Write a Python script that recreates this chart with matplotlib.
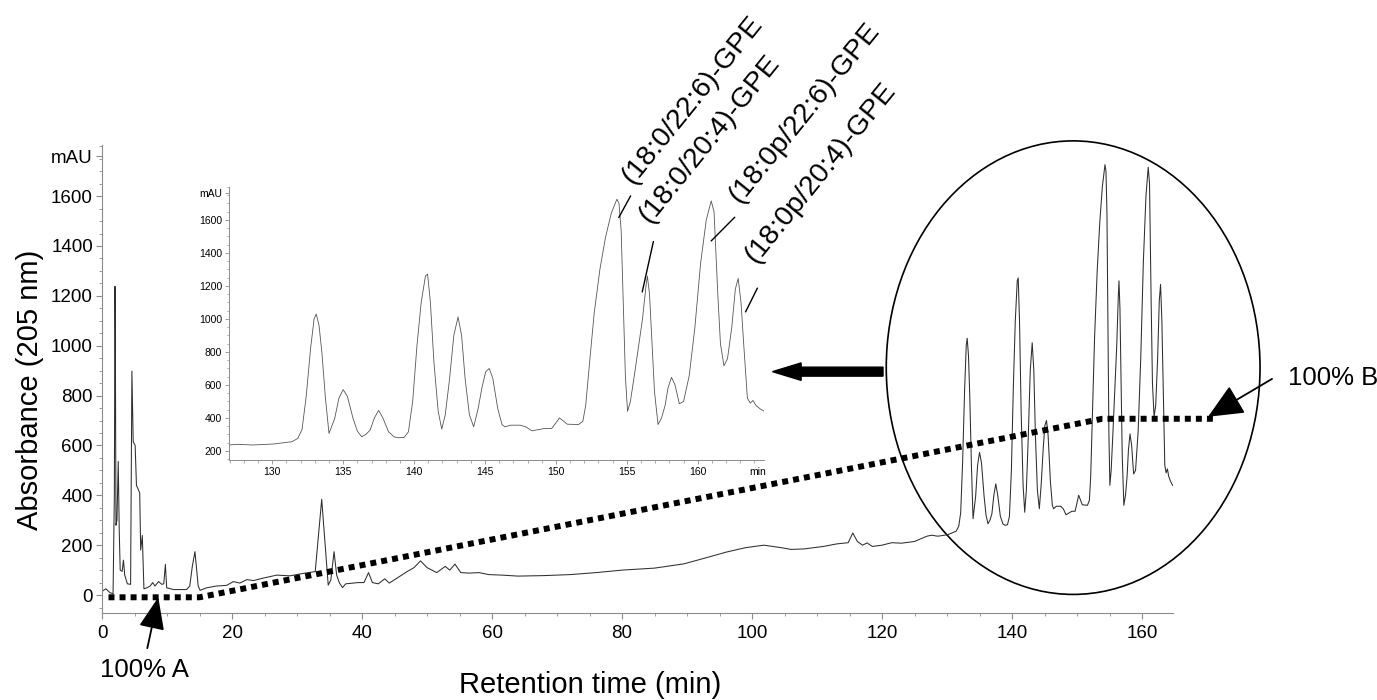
import matplotlib
matplotlib.use('Agg')
import matplotlib.pyplot as plt
from matplotlib.patches import Ellipse, FancyArrow
from matplotlib.ticker import MultipleLocator

plt.rcParams['font.family'] = ['Liberation Sans', 'DejaVu Sans']

# HPLC trace (retention time in min, absorbance in mAU)
trace_time = [0.0, 0.6, 1.2, 1.7, 1.9, 2.0, 2.05, 2.15, 2.3, 2.5, 2.65, 2.8, 3.1, 3.3, 3.5, 3.9,
              4.4, 4.6, 4.8, 5.1, 5.3, 5.8, 5.95, 6.2, 6.45, 6.9, 7.4, 7.8, 8.15, 8.7, 9.2, 9.5,
              9.75, 9.95, 11.0, 13.0, 13.5, 13.9, 14.3, 14.8, 15.1, 16.1, 17.6, 19.2, 20.2, 21.2,
              22.3, 23.3, 24.8, 26.9, 28.9, 31.0, 32.8, 33.3, 33.8, 34.3, 34.8, 35.2, 35.7, 36.1,
              36.5, 37.0, 37.5, 39.4, 40.3, 41.0, 41.6, 42.5, 43.5, 44.2, 45.5, 47.0, 48.0, 49.0,
              50.0, 51.5, 52.8, 53.5, 54.3, 55.2, 56.5, 58.0, 59.5, 61.5, 64.0, 68.0, 72.0, 76.0,
              80.0, 85.0, 89.5, 93.0, 96.0, 99.0, 101.8, 104.5, 106.0, 108.0, 111.0, 113.0, 114.8,
              115.5, 116.2, 117.0, 117.7, 118.5, 120.0, 121.5, 123.0, 125.0, 126.9, 127.6, 128.6,
              130.1, 131.4, 131.8, 132.1, 132.4, 132.7, 132.95, 133.1, 133.3, 133.5, 133.75, 134.0,
              134.4, 134.7, 135.0, 135.3, 135.7, 136.0, 136.3, 136.6, 136.9, 137.2, 137.5, 137.8,
              138.2, 138.6, 138.9, 139.3, 139.6, 139.9, 140.2, 140.5, 140.8, 140.95, 141.15, 141.4,
              141.7, 141.95, 142.2, 142.5, 142.8, 143.1, 143.35, 143.6, 143.9, 144.2, 144.5, 144.8,
              145.05, 145.3, 145.55, 145.9, 146.2, 146.4, 146.8, 147.5, 147.9, 148.3, 148.8, 149.2,
              149.7, 150.0, 150.25, 150.55, 150.8, 151.6, 151.9, 152.1, 152.4, 152.7, 153.1, 153.5,
              153.9, 154.3, 154.45, 154.6, 154.75, 154.9, 155.05, 155.25, 155.5, 155.8, 156.1,
              156.35, 156.45, 156.6, 156.75, 156.95, 157.2, 157.45, 157.7, 157.9, 158.15, 158.4,
              158.7, 159.0, 159.4, 159.8, 160.2, 160.6, 160.95, 161.15, 161.4, 161.6, 161.85, 162.1,
              162.4, 162.65, 162.85, 163.05, 163.25, 163.5, 163.7, 163.9, 164.1, 164.4, 164.7]
trace_abs = [15, 25, 10, 5, 400, 1238, 1050, 280, 300, 536, 260, 100, 95, 140, 80, 45,
             43, 898, 615, 600, 440, 410, 180, 239, 25, 29, 36, 50, 36, 54, 43, 45,
             123, 29, 22, 22, 36, 116, 174, 36, 19, 29, 36, 39, 54, 48,
             62, 58, 68, 80, 77, 87, 94, 239, 384, 210, 40, 60, 174, 80,
             50, 30, 45, 50, 50, 90, 50, 45, 65, 48, 70, 95, 110, 137,
             110, 90, 115, 100, 124, 90, 88, 90, 82, 80, 76, 78, 82, 90,
             100, 108, 125, 150, 172, 190, 200, 190, 183, 185, 195, 205, 210,
             249, 215, 200, 209, 195, 200, 210, 208, 215, 236, 240, 236,
             242, 256, 276, 330, 536, 820, 1000, 1030, 960, 796, 520, 306,
             396, 520, 572, 530, 396, 320, 286, 300, 326, 400, 446, 400,
             316, 285, 280, 282, 316, 500, 836, 1100, 1260, 1272, 1100, 736,
             440, 332, 420, 636, 900, 1012, 900, 636, 420, 346, 450, 590,
             680, 700, 640, 456, 360, 346, 356, 356, 345, 322, 330, 336,
             336, 370, 400, 380, 362, 360, 380, 476, 760, 1036, 1300, 1496,
             1640, 1726, 1700, 1536, 1100, 650, 440, 500, 640, 820, 996,
             1200, 1260, 1150, 900, 560, 360, 400, 476, 580, 646, 600,
             486, 500, 656, 950, 1336, 1600, 1716, 1650, 1176, 850, 716, 760,
             950, 1180, 1246, 1100, 836, 520, 490, 506, 476, 455, 440]

# solvent gradient (drawn on the absorbance scale)
grad_time = [1.0, 15.0, 153.9, 171.0]
grad_abs = [-9, -9, 707, 707]

main_xticks = [0, 20, 40, 60, 80, 100, 120, 140, 160]
main_yticks = [0, 200, 400, 600, 800, 1000, 1200, 1400, 1600]
inset_xticks = [130, 135, 140, 145, 150, 155, 160]
inset_yticks = [200, 400, 600, 800, 1000, 1200, 1400, 1600]

peak_names = ['(18:0/22:6)-GPE', '(18:0/20:4)-GPE', '(18:0p/22:6)-GPE', '(18:0p/20:4)-GPE']

W, H = 1377, 700
fig = plt.figure(figsize=(13.77, 7), dpi=100)

spine_col = '#8c8c8c'

# main chromatogram
ax = fig.add_axes([102 / W, 1 - 613 / H, 1070.6 / W, 468 / H])
ax.plot(trace_time, trace_abs, color='#2e2e2e', lw=0.75)
ax.plot(grad_time, grad_abs, color='black', lw=4.3, linestyle=(0, (1, 0.85)),
        dash_capstyle='butt', clip_on=False)
ax.set_xlim(0, 164.7)
ax.set_ylim(-72, 1805)
ax.set_xticks(main_xticks)
ax.set_yticks(main_yticks + [1760])
ax.set_yticklabels([str(v) for v in main_yticks] + ['mAU'])
ax.xaxis.set_minor_locator(MultipleLocator(5))
ax.yaxis.set_minor_locator(MultipleLocator(50))
for s in ['top', 'right']:
    ax.spines[s].set_visible(False)
for s in ['left', 'bottom']:
    ax.spines[s].set_color(spine_col)
    ax.spines[s].set_linewidth(0.8)
ax.tick_params(axis='both', which='major', labelsize=13.5, color=spine_col, length=4, width=0.8)
ax.tick_params(axis='both', which='minor', color=spine_col, length=2.5, width=0.6)
ax.tick_params(axis='x', pad=5)
ax.tick_params(axis='y', pad=2.5)

# ellipse around the late-eluting region
ax.add_patch(Ellipse((149.4, 912), 57.5, 1819, fill=False, edgecolor='black', lw=1.2, clip_on=False))

# thick arrow pointing to the inset
ax.add_patch(FancyArrow(120.15, 896, -17.0, 0, width=36, head_width=70, head_length=4.4,
                        length_includes_head=True, color='black', clip_on=False))

# 100% A / 100% B annotations
ax.annotate('', xy=(8.66, -9), xytext=(6.97, -213),
            arrowprops=dict(arrowstyle='-|>,head_length=1.0,head_width=0.4', mutation_scale=20,
                            color='black', lw=1.3, shrinkA=0, shrinkB=0),
            annotation_clip=False)
ax.text(6.6, -300, '100% A', fontsize=18.5, ha='center', va='center')
ax.annotate('', xy=(170.15, 715), xytext=(180.0, 867),
            arrowprops=dict(arrowstyle='-|>,head_length=1.0,head_width=0.45', mutation_scale=22,
                            color='black', lw=1.3, shrinkA=0, shrinkB=0),
            annotation_clip=False)
ax.text(182.5, 871, '100% B', fontsize=18.5, ha='left', va='center')

# inset: zoom of 127-165 min
ax_in = fig.add_axes([229 / W, 1 - 460 / H, 535.4 / W, 273 / H])
ax_in.set_facecolor('none')
ax_in.plot(trace_time, trace_abs, color='#555555', lw=0.6)
ax_in.set_xlim(126.95, 164.7)
ax_in.set_ylim(145, 1800)
ax_in.set_xticks(inset_xticks)
ax_in.set_yticks(inset_yticks + [1764])
ax_in.set_yticklabels([str(v) for v in inset_yticks] + ['mAU'])
ax_in.xaxis.set_minor_locator(MultipleLocator(1))
ax_in.yaxis.set_minor_locator(MultipleLocator(50))
for s in ['top', 'right']:
    ax_in.spines[s].set_visible(False)
for s in ['left', 'bottom']:
    ax_in.spines[s].set_color(spine_col)
    ax_in.spines[s].set_linewidth(0.7)
ax_in.tick_params(axis='both', which='major', labelsize=7.5, color=spine_col, length=3, width=0.6, pad=2)
ax_in.tick_params(axis='both', which='minor', color=spine_col, length=1.8, width=0.5)
ax_in.annotate('min', xy=(164.2, 0), xycoords=('data', 'axes fraction'), xytext=(0, -5),
               textcoords='offset points', ha='center', va='top', fontsize=7.5)

# peak labels and leader lines (inset data coordinates)
leaders = [((155.26, 1745), (154.44, 1616)),
           ((156.87, 1468), (156.09, 1165)),
           ((162.6, 1616), (160.96, 1474)),
           ((164.2, 1186), (163.38, 1044))]
for (p0, p1) in leaders:
    ax_in.plot([p0[0], p1[0]], [p0[1], p1[1]], color='black', lw=1.0, clip_on=False)

label_px = [(633, 185), (650, 224), (740, 204), (756, 264)]
for name, (px, py) in zip(peak_names, label_px):
    fig.text(px / W, 1 - py / H, name, fontsize=20.5, rotation=51, rotation_mode='anchor',
             ha='left', va='baseline')

fig.text(30 / W, 1 - 390 / H, 'Absorbance (205 nm)', fontsize=21, rotation=90, ha='center', va='center')
fig.text(590 / W, 1 - 685 / H, 'Retention time (min)', fontsize=21, ha='center', va='center')

fig.savefig('out.png', dpi=100)
